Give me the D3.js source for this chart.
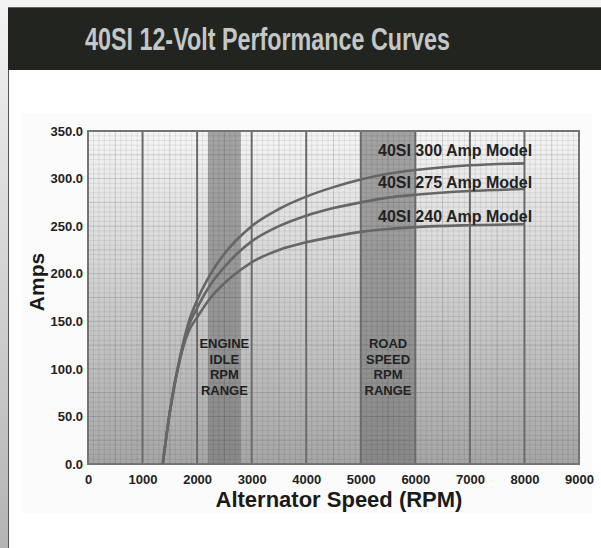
<!DOCTYPE html>
<html>
<head>
<meta charset="utf-8">
<script src="https://cdn.jsdelivr.net/npm/d3@7"></script>
<style>
  body { margin: 0; background: #fff; }
  svg { display: block; }
  text { font-family: "Liberation Sans", Arial, sans-serif; font-weight: bold; }
</style>
</head>
<body>
<svg id="chart" width="601" height="548"></svg>
<script>
// data (RPM, amps)
const rpm = [1370, 1500, 1700, 1850, 2000, 2250, 2500, 2750, 3000, 3500, 4000, 4500, 5000, 5500, 6000, 7000, 8000]
const amps300 = [0, 55, 116, 150, 172, 200, 221, 237, 250, 268, 281, 291, 299, 305, 309, 314, 316]
const amps275 = [0, 55, 115, 146, 164, 189, 207, 222, 234, 250, 261, 269, 275, 280, 283, 287, 289]
const amps240 = [0, 54, 113, 140, 154, 175, 190, 202, 212, 225, 233, 239, 244, 247, 249, 251, 252]
const seriesNames = ["40SI 300 Amp Model", "40SI 275 Amp Model", "40SI 240 Amp Model"]

// shaded rpm ranges
const bandStart = [2200, 5000]
const bandEnd = [2800, 6000]
const bandLabels = [["ENGINE", "IDLE", "RPM", "RANGE"], ["ROAD", "SPEED", "RPM", "RANGE"]]

const xTicks = [0, 1000, 2000, 3000, 4000, 5000, 6000, 7000, 8000, 9000]
const yTicks = [0, 50, 100, 150, 200, 250, 300, 350]

const title = "40SI 12-Volt Performance Curves"

const svg = d3.select("#chart")
const defs = svg.append("defs")

// page background
const pageGrad = defs.append("linearGradient").attr("id", "pageGrad")
    .attr("x1", 0).attr("y1", 0).attr("x2", 0).attr("y2", 1)
pageGrad.append("stop").attr("offset", 0).attr("stop-color", "#f3f3f3")
pageGrad.append("stop").attr("offset", 1).attr("stop-color", "#b4b4b4")

const plotGrad = defs.append("linearGradient").attr("id", "plotGrad")
    .attr("x1", 0).attr("y1", 0).attr("x2", 0).attr("y2", 1)
plotGrad.append("stop").attr("offset", 0).attr("stop-color", "#f5f5f5")
plotGrad.append("stop").attr("offset", 1).attr("stop-color", "#a6a6a6")

const bandGrad = defs.append("linearGradient").attr("id", "bandGrad")
    .attr("x1", 0).attr("y1", 0).attr("x2", 0).attr("y2", 1)
bandGrad.append("stop").attr("offset", 0).attr("stop-color", "#a3a3a3")
bandGrad.append("stop").attr("offset", 1).attr("stop-color", "#898989")

svg.append("rect").attr("width", 601).attr("height", 548).attr("fill", "url(#pageGrad)")

// white panel
svg.append("rect").attr("x", 8.5).attr("y", 8).attr("width", 600).attr("height", 560)
    .attr("fill", "#fff").attr("stroke", "#555").attr("stroke-width", 1)
svg.append("rect").attr("x", 22).attr("y", 113).attr("width", 570).attr("height", 400)
    .attr("fill", "#fbfbfb")

// header
svg.append("rect").attr("x", 8).attr("y", 7.5).attr("width", 593).attr("height", 62.5)
    .attr("fill", "#22241f")
svg.append("text")
    .attr("x", 85).attr("y", 50)
    .attr("textLength", 365).attr("lengthAdjust", "spacingAndGlyphs")
    .style("font-family", "'Liberation Sans Narrow', 'Liberation Sans', sans-serif")
    .style("font-size", "31px")
    .attr("fill", "#c3c7c7")
    .text(title)

// scales
const x = d3.scaleLinear().domain([0, 9000]).range([88, 579])
const y = d3.scaleLinear().domain([0, 350]).range([464, 131])

// plot background
svg.append("rect")
    .attr("x", x(0)).attr("y", y(350))
    .attr("width", x(9000) - x(0)).attr("height", y(0) - y(350))
    .attr("fill", "url(#plotGrad)")

// bands
svg.selectAll(".band")
    .data(bandStart)
    .enter().append("rect")
    .attr("class", "band")
    .attr("x", d => x(d))
    .attr("y", y(350))
    .attr("width", (d, i) => x(bandEnd[i]) - x(d))
    .attr("height", y(0) - y(350))
    .attr("fill", "url(#bandGrad)")

// fine grid
const grid = svg.append("g")
grid.selectAll(".vx")
    .data(d3.range(100, 9000, 100).filter(d => d % 1000 !== 0))
    .enter().append("line")
    .attr("x1", d => x(d)).attr("x2", d => x(d))
    .attr("y1", y(350)).attr("y2", y(0))
    .attr("stroke", "#000")
    .attr("stroke-opacity", d => d % 500 === 0 ? 0.16 : 0.08)
grid.selectAll(".hy")
    .data(d3.range(5, 350, 5))
    .enter().append("line")
    .attr("x1", x(0)).attr("x2", x(9000))
    .attr("y1", d => y(d)).attr("y2", d => y(d))
    .attr("stroke", "#000")
    .attr("stroke-opacity", d => d % 25 === 0 ? 0.15 : 0.07)

// major vertical lines
svg.selectAll(".major")
    .data(xTicks.filter(d => d > 0 && d < 9000))
    .enter().append("line")
    .attr("x1", d => x(d)).attr("x2", d => x(d))
    .attr("y1", y(350)).attr("y2", y(0))
    .attr("stroke", "#6a6a6a").attr("stroke-width", 2)

// frame
svg.append("rect")
    .attr("x", x(0)).attr("y", y(350))
    .attr("width", x(9000) - x(0)).attr("height", y(0) - y(350))
    .attr("fill", "none").attr("stroke", "#747474").attr("stroke-width", 2)

// band labels
bandLabels.forEach((lines, i) => {
    const cx = x((bandStart[i] + bandEnd[i]) / 2)
    svg.append("text")
        .attr("text-anchor", "middle")
        .style("font-size", "13px")
        .attr("fill", "#222")
        .selectAll("tspan")
        .data(lines)
        .enter().append("tspan")
        .attr("x", cx)
        .attr("y", (d, j) => 348 + j * 15.6)
        .text(d => d)
})

// curves
const allAmps = [amps300, amps275, amps240]
const line = d3.line()
    .x((d, i) => x(rpm[i]))
    .y(d => y(d))
    .curve(d3.curveMonotoneX)

svg.selectAll(".curve")
    .data(allAmps)
    .enter().append("path")
    .attr("d", d => line(d))
    .attr("fill", "none")
    .attr("stroke", "#666")
    .attr("stroke-width", 2.6)

// curve labels
const labelShift = [-7, -1, -2.5]
svg.selectAll(".clabel")
    .data(seriesNames)
    .enter().append("text")
    .attr("x", 378)
    .attr("y", (d, i) => y(allAmps[i][allAmps[i].length - 1]) + labelShift[i])
    .style("font-size", "16px")
    .attr("fill", "#222")
    .text(d => d)

// axes
const yAxis = svg.append("g")
    .attr("transform", `translate(${x(0)},0)`)
    .call(d3.axisLeft(y).tickValues(yTicks).tickFormat(d3.format(".1f")).tickSize(0).tickPadding(5))
yAxis.select(".domain").remove()
yAxis.selectAll("text").style("font-size", "13px").attr("fill", "#222")
    .style("font-family", "'Liberation Sans', Arial, sans-serif")

const xAxis = svg.append("g")
    .attr("transform", `translate(0,${y(0)})`)
    .call(d3.axisBottom(x).tickValues(xTicks).tickFormat(d3.format("d")).tickSize(0).tickPadding(11))
xAxis.select(".domain").remove()
xAxis.selectAll("text").style("font-size", "13px").attr("fill", "#222")
    .style("font-family", "'Liberation Sans', Arial, sans-serif")

// axis titles
svg.append("text")
    .attr("x", 339).attr("y", 507)
    .attr("text-anchor", "middle")
    .style("font-size", "22px")
    .attr("fill", "#1a1a1a")
    .text("Alternator Speed (RPM)")

svg.append("text")
    .attr("transform", "translate(44,282) rotate(-90)")
    .attr("text-anchor", "middle")
    .style("font-size", "21px")
    .attr("fill", "#1a1a1a")
    .text("Amps")
</script>
</body>
</html>
